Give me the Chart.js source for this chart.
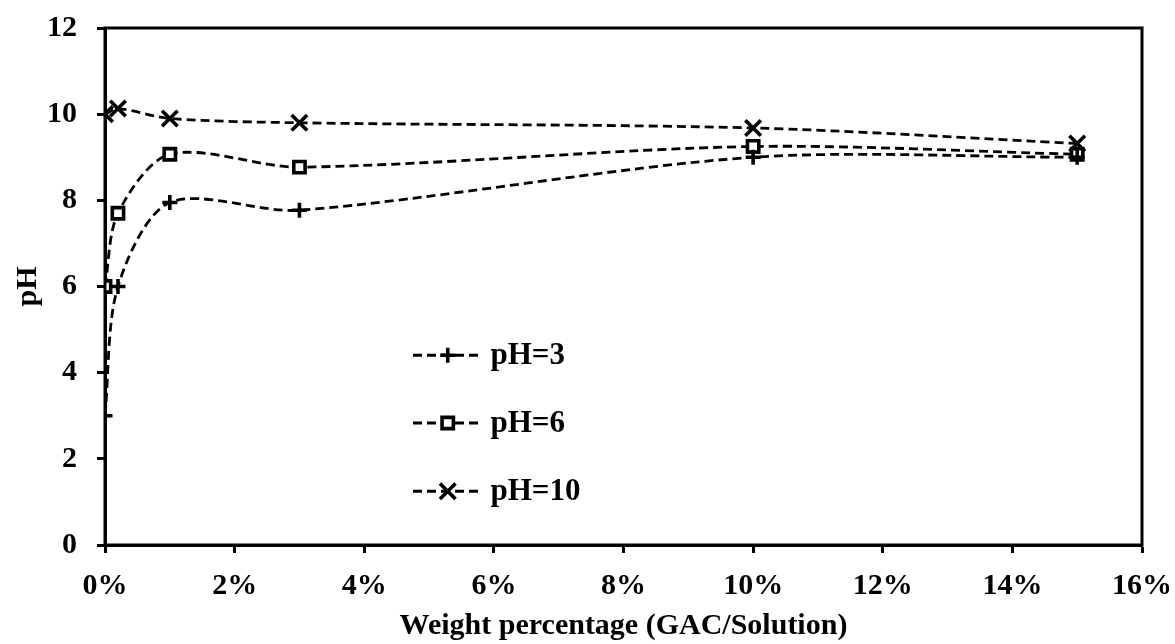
<!DOCTYPE html>
<html>
<head>
<meta charset="utf-8">
<title>pH vs GAC weight percentage</title>
<script src="https://cdn.jsdelivr.net/npm/chart.js@4.4.1/dist/chart.umd.min.js"></script>
<style>
    html, body { margin: 0; padding: 0; background: #fff; }
    #wrap { width: 1175px; height: 644px; }
</style>
</head>
<body>
<div id="wrap"><canvas id="phChart" width="1175" height="644"></canvas></div>
<script>
// Weight fraction of GAC in solution (x) and measured pH for each starting pH
const weightFraction = [0, 0.002, 0.01, 0.03, 0.10, 0.15];
const phStart3 = [3.0, 6.0, 7.95, 7.77, 9.0, 9.0];
const phStart6 = [6.0, 7.7, 9.07, 8.77, 9.25, 9.07];
const phStart10 = [10.0, 10.13, 9.9, 9.8, 9.68, 9.32];
const seriesNames = ["pH=3", "pH=6", "pH=10"];
const yTicks = [0, 2, 4, 6, 8, 10, 12];

const FONT = "'Liberation Serif', 'Times New Roman', serif";
const DASH = [9, 5];

function toPoints(ys) {
    return weightFraction.map((x, i) => ({ x: x, y: ys[i] }));
}

function makeDataset(label, ys, style, radius, bg) {
    return {
        label: label,
        data: toPoints(ys),
        borderColor: "#000",
        borderWidth: 2.8,
        borderDash: DASH,
        tension: 0.3,
        fill: false,
        pointStyle: style,
        pointRadius: radius,
        pointHoverRadius: radius,
        pointBackgroundColor: bg,
        pointBorderColor: "#000",
        pointBorderWidth: 3.6,
    };
}

// box around the plot area plus the legend sitting inside it
const framePlugin = {
    id: "frameAndLegend",
    afterDraw(chart) {
        const ctx = chart.ctx;
        const a = chart.chartArea;
        ctx.save();
        ctx.strokeStyle = "#000";
        ctx.lineWidth = 3;
        ctx.strokeRect(a.left, a.top, a.right - a.left, a.bottom - a.top);

        const w = a.right - a.left;
        const h = a.bottom - a.top;
        const x0 = a.left + w * 0.297;
        const x1 = a.left + w * 0.364;
        const rowY = [0.633, 0.764, 0.896].map(f => a.top + h * f);

        chart.data.datasets.forEach((ds, i) => {
            const y = rowY[i];
            ctx.setLineDash(DASH);
            ctx.lineWidth = ds.borderWidth;
            ctx.beginPath();
            ctx.moveTo(x0, y);
            ctx.lineTo(x1, y);
            ctx.stroke();
            ctx.setLineDash([]);
            ctx.lineWidth = ds.pointBorderWidth;
            ctx.fillStyle = ds.pointBackgroundColor;
            Chart.helpers.drawPoint(ctx, {
                pointStyle: ds.pointStyle,
                radius: ds.pointRadius,
                rotation: 0,
                borderWidth: ds.pointBorderWidth
            }, (x0 + x1) / 2, y);
            ctx.fillStyle = "#000";
            ctx.font = "bold 31px " + FONT;
            ctx.textBaseline = "middle";
            ctx.textAlign = "left";
            ctx.fillText(ds.label, x1 + 8, y + 1);
        });
        ctx.restore();
    }
};

const ctx = document.getElementById("phChart").getContext("2d");

new Chart(ctx, {
    type: "line",
    data: {
        datasets: [
            makeDataset(seriesNames[0], phStart3, "cross", 7.5, "#000"),
            makeDataset(seriesNames[1], phStart6, "rect", 8, "#fff"),
            makeDataset(seriesNames[2], phStart10, "crossRot", 11, "#000"),
        ]
    },
    options: {
        responsive: false,
        animation: false,
        layout: { padding: { top: 28, right: 33, left: 0, bottom: 0 } },
        plugins: {
            legend: { display: false },
            tooltip: { enabled: false },
        },
        scales: {
            x: {
                type: "linear",
                min: 0,
                max: 0.16,
                afterFit(scale) {
                    scale.height = 99;
                    // labels may hang over the canvas margin, keep the plot width fixed
                    scale.paddingLeft = 0;
                    scale.paddingRight = 0;
                },
                afterBuildTicks(scale) {
                    scale.ticks = [];
                    for (let k = 0; k <= 8; k++) scale.ticks.push({ value: k * 0.02 });
                },
                ticks: {
                    color: "#000",
                    padding: 15,
                    maxRotation: 0,
                    font: { family: FONT, size: 30, weight: "bold" },
                    callback: v => Math.round(v * 100) + "%",
                },
                grid: {
                    display: true,
                    drawOnChartArea: false,
                    drawTicks: true,
                    tickLength: 8,
                    tickWidth: 3,
                    tickColor: "#000",
                },
                border: { color: "#000", width: 3 },
                title: {
                    display: true,
                    text: "Weight percentage (GAC/Solution)",
                    color: "#000",
                    font: { family: FONT, size: 30, weight: "bold" },
                    padding: { top: 0, bottom: 0 },
                },
            },
            y: {
                min: 0,
                max: 12,
                afterFit(scale) {
                    scale.width = 105;
                    scale.paddingTop = 0;
                    scale.paddingBottom = 0;
                },
                afterBuildTicks(scale) {
                    scale.ticks = yTicks.map(v => ({ value: v }));
                },
                ticks: {
                    color: "#000",
                    padding: 20,
                    font: { family: FONT, size: 30, weight: "bold" },
                },
                grid: {
                    display: true,
                    drawOnChartArea: false,
                    drawTicks: true,
                    tickLength: 8,
                    tickWidth: 3,
                    tickColor: "#000",
                },
                border: { color: "#000", width: 3 },
                title: {
                    display: true,
                    text: "pH",
                    color: "#000",
                    font: { family: FONT, size: 30, weight: "bold" },
                    padding: { top: 10, bottom: 0 },
                },
            },
        },
    },
    plugins: [framePlugin],
});
</script>
</body>
</html>
